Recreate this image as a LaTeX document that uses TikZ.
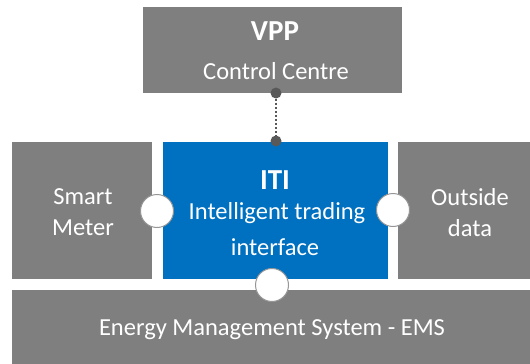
\documentclass[tikz,border=0pt]{standalone}
\usepackage{fontspec}
\setmainfont{Carlito}
\definecolor{boxgray}{RGB}{127,127,127}
\definecolor{itiblue}{RGB}{0,112,192}
\definecolor{dotgray}{RGB}{89,89,89}
\definecolor{ringgray}{RGB}{150,150,150}
\begin{document}
\begin{tikzpicture}[x=1pt,y=-1pt,
  graybox/.style={fill=boxgray, draw=none, inner sep=0pt},
  bluebox/.style={fill=itiblue, draw=none, inner sep=0pt},
  txt/.style={text=white, inner sep=0pt, font=\fontsize{24.5}{29}\selectfont},
  bigtxt/.style={text=white, inner sep=0pt, font=\fontsize{29}{34}\selectfont\bfseries},
  port/.style={circle, fill=white, draw=ringgray, line width=1pt, minimum size=33pt, inner sep=0pt},
  dot/.style={circle, fill=dotgray, draw=none, minimum size=11pt, inner sep=0pt},
  link/.style={draw=dotgray, line width=1.5pt, dash pattern=on 2pt off 2pt}]
\useasboundingbox (0,0) rectangle (530,364);
% boxes
\node[graybox, minimum width=259pt, minimum height=86pt] (vpp) at (272.5,50) {};
\node[graybox, minimum width=140pt, minimum height=137pt] (sm) at (82,210.5) {};
\node[bluebox, minimum width=225pt, minimum height=137pt] (iti) at (275.5,210.5) {};
\node[graybox, minimum width=132pt, minimum height=137pt] (od) at (464,210.5) {};
\node[graybox, minimum width=518pt, minimum height=74pt] (ems) at (271,327) {};
% texts
\node[bigtxt] (vppt) at (275,31) {VPP};
\node[txt] (cct) at (276,71) {Control Centre};
\node[bigtxt] (itit) at (275,180) {ITI};
\node[txt] (itt) at (277,213) {Intelligent trading};
\node[txt] (ift) at (275,247) {interface};
\node[txt] (smt1) at (83,197) {Smart};
\node[txt] (smt2) at (83,228) {Meter};
\node[txt] (odt1) at (470,197) {Outside};
\node[txt] (odt2) at (470,228) {data};
\node[txt] (emst) at (272,330) {Energy Management System - EMS};
% link
\node[dot] (d1) at (276,93) {};
\node[dot] (d2) at (276,141) {};
\draw[link] (d1) -- (d2);
% ports
\node[port] (pl) at (157,211) {};
\node[port] (pr) at (393,210) {};
\node[port] (pb) at (272,285) {};
\end{tikzpicture}
\end{document}
